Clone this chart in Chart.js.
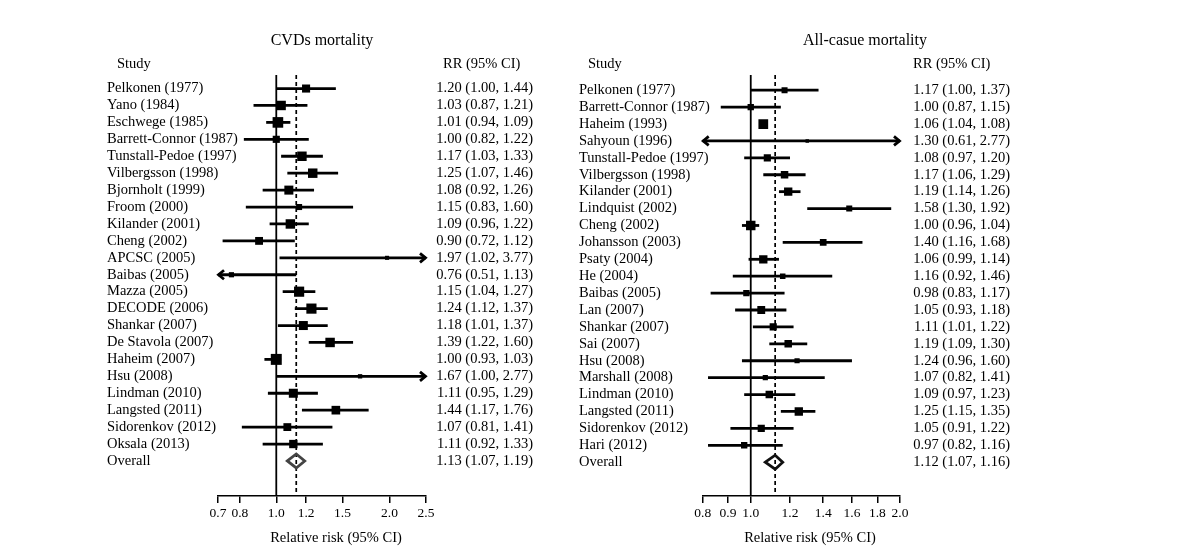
<!DOCTYPE html>
<html>
<head>
<meta charset="utf-8">
<script src="https://cdn.jsdelivr.net/npm/chart.js@4.4.1/dist/chart.umd.min.js"></script>
<style>
  body { margin: 0; background: #fff; }
  #wrap { position: relative; width: 1200px; height: 548px; }
  canvas { position: absolute; top: 0; }
</style>
</head>
<body>
<div id="wrap">
  <canvas id="cvd" width="560" height="548" style="left:0"></canvas>
  <canvas id="all" width="630" height="548" style="left:570px"></canvas>
</div>
<script>
// CVDs mortality
const cvdStudies = ['Pelkonen (1977)', 'Yano (1984)', 'Eschwege (1985)', 'Barrett-Connor (1987)',
  'Tunstall-Pedoe (1997)', 'Vilbergsson (1998)', 'Bjornholt (1999)', 'Froom (2000)', 'Kilander (2001)',
  'Cheng (2002)', 'APCSC (2005)', 'Baibas (2005)', 'Mazza (2005)', 'DECODE (2006)', 'Shankar (2007)',
  'De Stavola (2007)', 'Haheim (2007)', 'Hsu (2008)', 'Lindman (2010)', 'Langsted (2011)',
  'Sidorenkov (2012)', 'Oksala (2013)'];
const cvdRR = [1.20, 1.03, 1.01, 1.00, 1.17, 1.25, 1.08, 1.15, 1.09, 0.90, 1.97, 0.76, 1.15, 1.24, 1.18, 1.39, 1.00, 1.67, 1.11, 1.44, 1.07, 1.11];
const cvdLo = [1.00, 0.87, 0.94, 0.82, 1.03, 1.07, 0.92, 0.83, 0.96, 0.72, 1.02, 0.51, 1.04, 1.12, 1.01, 1.22, 0.93, 1.00, 0.95, 1.17, 0.81, 0.92];
const cvdHi = [1.44, 1.21, 1.09, 1.22, 1.33, 1.46, 1.26, 1.60, 1.22, 1.12, 3.77, 1.13, 1.27, 1.37, 1.37, 1.60, 1.03, 2.77, 1.29, 1.76, 1.41, 1.33];
const cvdWeight = [8.7, 12.2, 15.6, 6.7, 12.2, 12.2, 11.0, 4.6, 12.2, 8.2, 1.9, 3.3, 14.2, 14.2, 11.0, 12.2, 16.7, 2.2, 11.0, 10.1, 8.2, 9.3];
const cvdOverall = [1.13, 1.07, 1.19];
const cvdTicks = [0.7, 0.8, 1.0, 1.2, 1.5, 2.0, 2.5];

// All-cause mortality
const allStudies = ['Pelkonen (1977)', 'Barrett-Connor (1987)', 'Haheim (1993)', 'Sahyoun (1996)',
  'Tunstall-Pedoe (1997)', 'Vilbergsson (1998)', 'Kilander (2001)', 'Lindquist (2002)', 'Cheng (2002)',
  'Johansson (2003)', 'Psaty (2004)', 'He (2004)', 'Baibas (2005)', 'Lan (2007)', 'Shankar (2007)',
  'Sai (2007)', 'Hsu (2008)', 'Marshall (2008)', 'Lindman (2010)', 'Langsted (2011)',
  'Sidorenkov (2012)', 'Hari (2012)'];
const allRR = [1.17, 1.00, 1.06, 1.30, 1.08, 1.17, 1.19, 1.58, 1.00, 1.40, 1.06, 1.16, 0.98, 1.05, 1.11, 1.19, 1.24, 1.07, 1.09, 1.25, 1.05, 0.97];
const allLo = [1.00, 0.87, 1.04, 0.61, 0.97, 1.06, 1.14, 1.30, 0.96, 1.16, 0.99, 0.92, 0.83, 0.93, 1.01, 1.09, 0.96, 0.82, 0.97, 1.15, 0.91, 0.82];
const allHi = [1.37, 1.15, 1.08, 2.77, 1.20, 1.29, 1.26, 1.92, 1.04, 1.68, 1.14, 1.46, 1.17, 1.18, 1.22, 1.30, 1.60, 1.41, 1.23, 1.35, 1.22, 1.16];
const allWeight = [4.6, 5.2, 13.0, 1.3, 6.7, 7.4, 9.3, 4.6, 12.2, 5.8, 9.3, 3.8, 5.2, 8.2, 6.7, 7.4, 3.3, 3.3, 7.4, 9.3, 6.7, 5.2];
const allOverall = [1.12, 1.07, 1.16];
const allTicks = [0.8, 0.9, 1.0, 1.2, 1.4, 1.6, 1.8, 2.0];

const FONT = '"Liberation Serif", "Times New Roman", serif';
const f2 = v => v.toFixed(2);

function forestPlugin(p) {
  return {
    id: 'forest',
    beforeDatasetsDraw(chart) {
      const { ctx, chartArea: a, scales: { x, y } } = chart;
      ctx.save();
      ctx.strokeStyle = '#000';
      ctx.lineCap = 'butt';
      // no-effect line and overall line
      const x1 = x.getPixelForValue(1);
      ctx.lineWidth = 1.8;
      ctx.beginPath(); ctx.moveTo(x1, a.top); ctx.lineTo(x1, a.bottom); ctx.stroke();
      const xo = x.getPixelForValue(p.overall[0]);
      ctx.lineWidth = 1.7;
      ctx.setLineDash([4, 3]);
      ctx.beginPath(); ctx.moveTo(xo, a.top); ctx.lineTo(xo, a.bottom); ctx.stroke();
      ctx.setLineDash([]);

      // confidence intervals
      ctx.lineWidth = 2.8;
      p.lo.forEach((lo, i) => {
        const hi = p.hi[i];
        const yy = y.getPixelForValue(i);
        const xa = x.getPixelForValue(Math.max(lo, x.min));
        const xb = x.getPixelForValue(Math.min(hi, x.max));
        ctx.beginPath(); ctx.moveTo(xa, yy); ctx.lineTo(xb, yy); ctx.stroke();
        if (lo < x.min) {
          ctx.beginPath(); ctx.moveTo(xa + 6, yy - 4.5); ctx.lineTo(xa + 0.5, yy); ctx.lineTo(xa + 6, yy + 4.5); ctx.stroke();
        }
        if (hi > x.max) {
          ctx.beginPath(); ctx.moveTo(xb - 6, yy - 4.5); ctx.lineTo(xb - 0.5, yy); ctx.lineTo(xb - 6, yy + 4.5); ctx.stroke();
        }
      });

      // overall diamond
      const yd = y.getPixelForValue(p.lo.length);
      const dl = x.getPixelForValue(p.overall[1]);
      const dr = x.getPixelForValue(p.overall[2]);
      ctx.strokeStyle = p.diamondColor;
      ctx.lineWidth = 2.8;
      ctx.lineJoin = 'miter';
      ctx.beginPath();
      ctx.moveTo(dl, yd); ctx.lineTo(xo, yd - 7); ctx.lineTo(dr, yd); ctx.lineTo(xo, yd + 7); ctx.closePath();
      ctx.stroke();
      ctx.restore();
    },
    afterDraw(chart) {
      const { ctx, scales: { y } } = chart;
      ctx.save();
      ctx.fillStyle = '#000';
      ctx.textBaseline = 'middle';
      ctx.font = '16px ' + FONT;
      ctx.textAlign = 'center';
      ctx.fillText(p.title, p.titleX, 41);
      ctx.font = '14.5px ' + FONT;
      ctx.fillText('Relative risk (95% CI)', p.axisTitleX, 538);
      ctx.textAlign = 'left';
      ctx.fillText('Study', p.studyX, 64);
      ctx.fillText('RR (95% CI)', p.rrX, 64);
      // study names, one per row on the y scale
      p.labels.forEach((name, i) => {
        ctx.fillText(name, y.left, y.getPixelForValue(i));
      });
      ctx.restore();
    }
  };
}

function makePanel(id, studies, rr, lo, hi, weight, overall, ticks, lay) {
  const labels = studies.concat(['Overall']);
  const rrText = rr.map((v, i) => `${f2(v)} (${f2(lo[i])}, ${f2(hi[i])})`)
    .concat([`${f2(overall[0])} (${f2(overall[1])}, ${f2(overall[2])})`]);
  const rows = labels.map((_, i) => i);
  const yCommon = {
    type: 'linear', reverse: true, min: lay.yMin, max: lay.yMax,
    grid: { display: false }, border: { display: false },
    afterBuildTicks: s => { s.ticks = rows.map(v => ({ value: v })); }
  };
  const radius = weight.map(w => 1.8 * Math.sqrt(w) + 0.4);
  new Chart(document.getElementById(id), {
    type: 'scatter',
    data: {
      datasets: [{
        data: rr.map((v, i) => ({ x: v, y: i })),
        yAxisID: 'y',
        pointStyle: 'rect',
        pointRadius: radius,
        pointHoverRadius: radius,
        backgroundColor: '#000',
        borderWidth: 0
      }]
    },
    options: {
      responsive: false,
      animation: false,
      events: [],
      layout: { padding: { left: lay.padLeft, right: lay.padRight, top: 75, bottom: 0 } },
      plugins: { legend: { display: false }, tooltip: { enabled: false }, title: { display: false } },
      scales: {
        x: {
          type: 'logarithmic', min: ticks[0], max: ticks[ticks.length - 1],
          afterBuildTicks: s => { s.ticks = ticks.map(v => ({ value: v })); },
          afterFit: s => { s.height = 52; },
          ticks: {
            autoSkip: false, maxRotation: 0, padding: 2, color: '#000',
            font: { family: FONT, size: 13.5 },
            callback: v => Number(v).toFixed(1)
          },
          grid: { drawOnChartArea: false, drawTicks: true, tickLength: 7, color: '#000', lineWidth: 1.5 },
          border: { display: true, color: '#000', width: 1.6 }
        },
        y: Object.assign({}, yCommon, {
          position: 'left',
          afterFit: s => { s.width = lay.yLeftWidth; },
          ticks: { display: false }
        }),
        y2: Object.assign({}, yCommon, {
          position: 'right',
          afterFit: s => { s.width = lay.yRightWidth; },
          ticks: {
            autoSkip: false, crossAlign: 'far', color: '#000',
            font: { family: FONT, size: 14.5 },
            callback: v => rrText[v]
          }
        })
      }
    },
    plugins: [forestPlugin({
      lo, hi, overall, labels, title: lay.title, titleX: lay.titleX, axisTitleX: lay.axisTitleX,
      studyX: lay.studyX, rrX: lay.rrX, diamondColor: lay.diamondColor
    })]
  });
}

makePanel('cvd', cvdStudies, cvdRR, cvdLo, cvdHi, cvdWeight, cvdOverall, cvdTicks, {
  title: 'CVDs mortality', yMin: -0.8, yMax: 24.07,
  padLeft: 107, padRight: 27, yLeftWidth: 111, yRightWidth: 107,
  titleX: 322, axisTitleX: 336, studyX: 117, rrX: 443, diamondColor: '#444'
});

makePanel('all', allStudies, allRR, allLo, allHi, allWeight, allOverall, allTicks, {
  title: 'All-casue mortality', yMin: -0.9, yMax: 24.0,
  padLeft: 9, padRight: 190, yLeftWidth: 123.7, yRightWidth: 110,
  titleX: 295, axisTitleX: 240, studyX: 18, rrX: 343, diamondColor: '#111'
});
</script>
</body>
</html>
